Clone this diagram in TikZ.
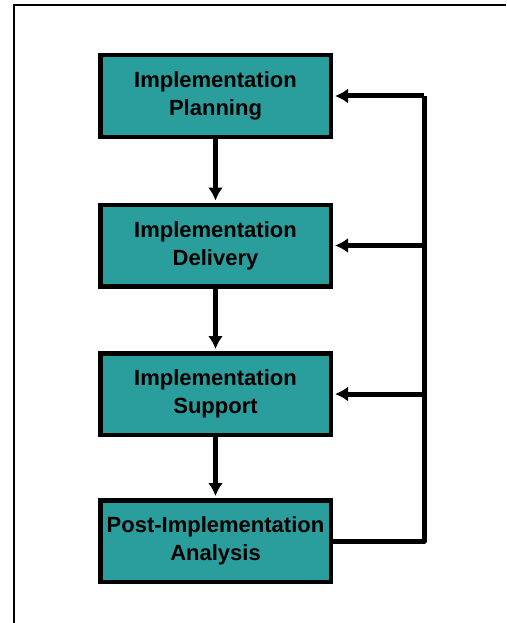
\documentclass[tikz,border=0pt]{standalone}
\usepackage{fontspec}
\setmainfont{Liberation Sans}
\usetikzlibrary{arrows.meta}
\definecolor{boxteal}{RGB}{42,157,157}
\begin{document}
\begin{tikzpicture}[x=1pt,y=-1pt,
  box/.style={draw, line width=4.5pt, fill=boxteal, minimum width=230.5pt, minimum height=81.5pt,
    inner sep=0pt, font=\bfseries\fontsize{22}{28}\selectfont, align=center},
  arr/.style={line width=5pt, -{Latex[length=13pt,width=15pt]}, shorten >=2pt},
  fb/.style={line width=5pt, line join=round}]
\useasboundingbox (0,0) rectangle (506,623);
\draw[line width=1.5pt] (14,623) -- (14,5) -- (506,5);
\node[box] (a1) at (215.5,96) {Implementation\\Planning};
\node[box] (a2) at (215.5,245.5) {Implementation\\Delivery};
\node[box] (a3) at (215.5,394) {Implementation\\Support};
\node[box] (a4) at (215.5,541) {Post-Implementation\\Analysis};
\draw[arr] (a1.south) -- (a2.north);
\draw[arr] (a2.south) -- (a3.north);
\draw[arr] (a3.south) -- (a4.north);
\coordinate (c1) at (424,96);
\coordinate (c2) at (424,245.5);
\coordinate (c3) at (424,394);
\coordinate (c4) at (424,541);
\draw[fb] (a4.east) -- (c4) -- (c1);
\draw[arr] (c1) -- (a1.east);
\draw[arr] (c2) -- (a2.east);
\draw[arr] (c3) -- (a3.east);
\end{tikzpicture}
\end{document}
